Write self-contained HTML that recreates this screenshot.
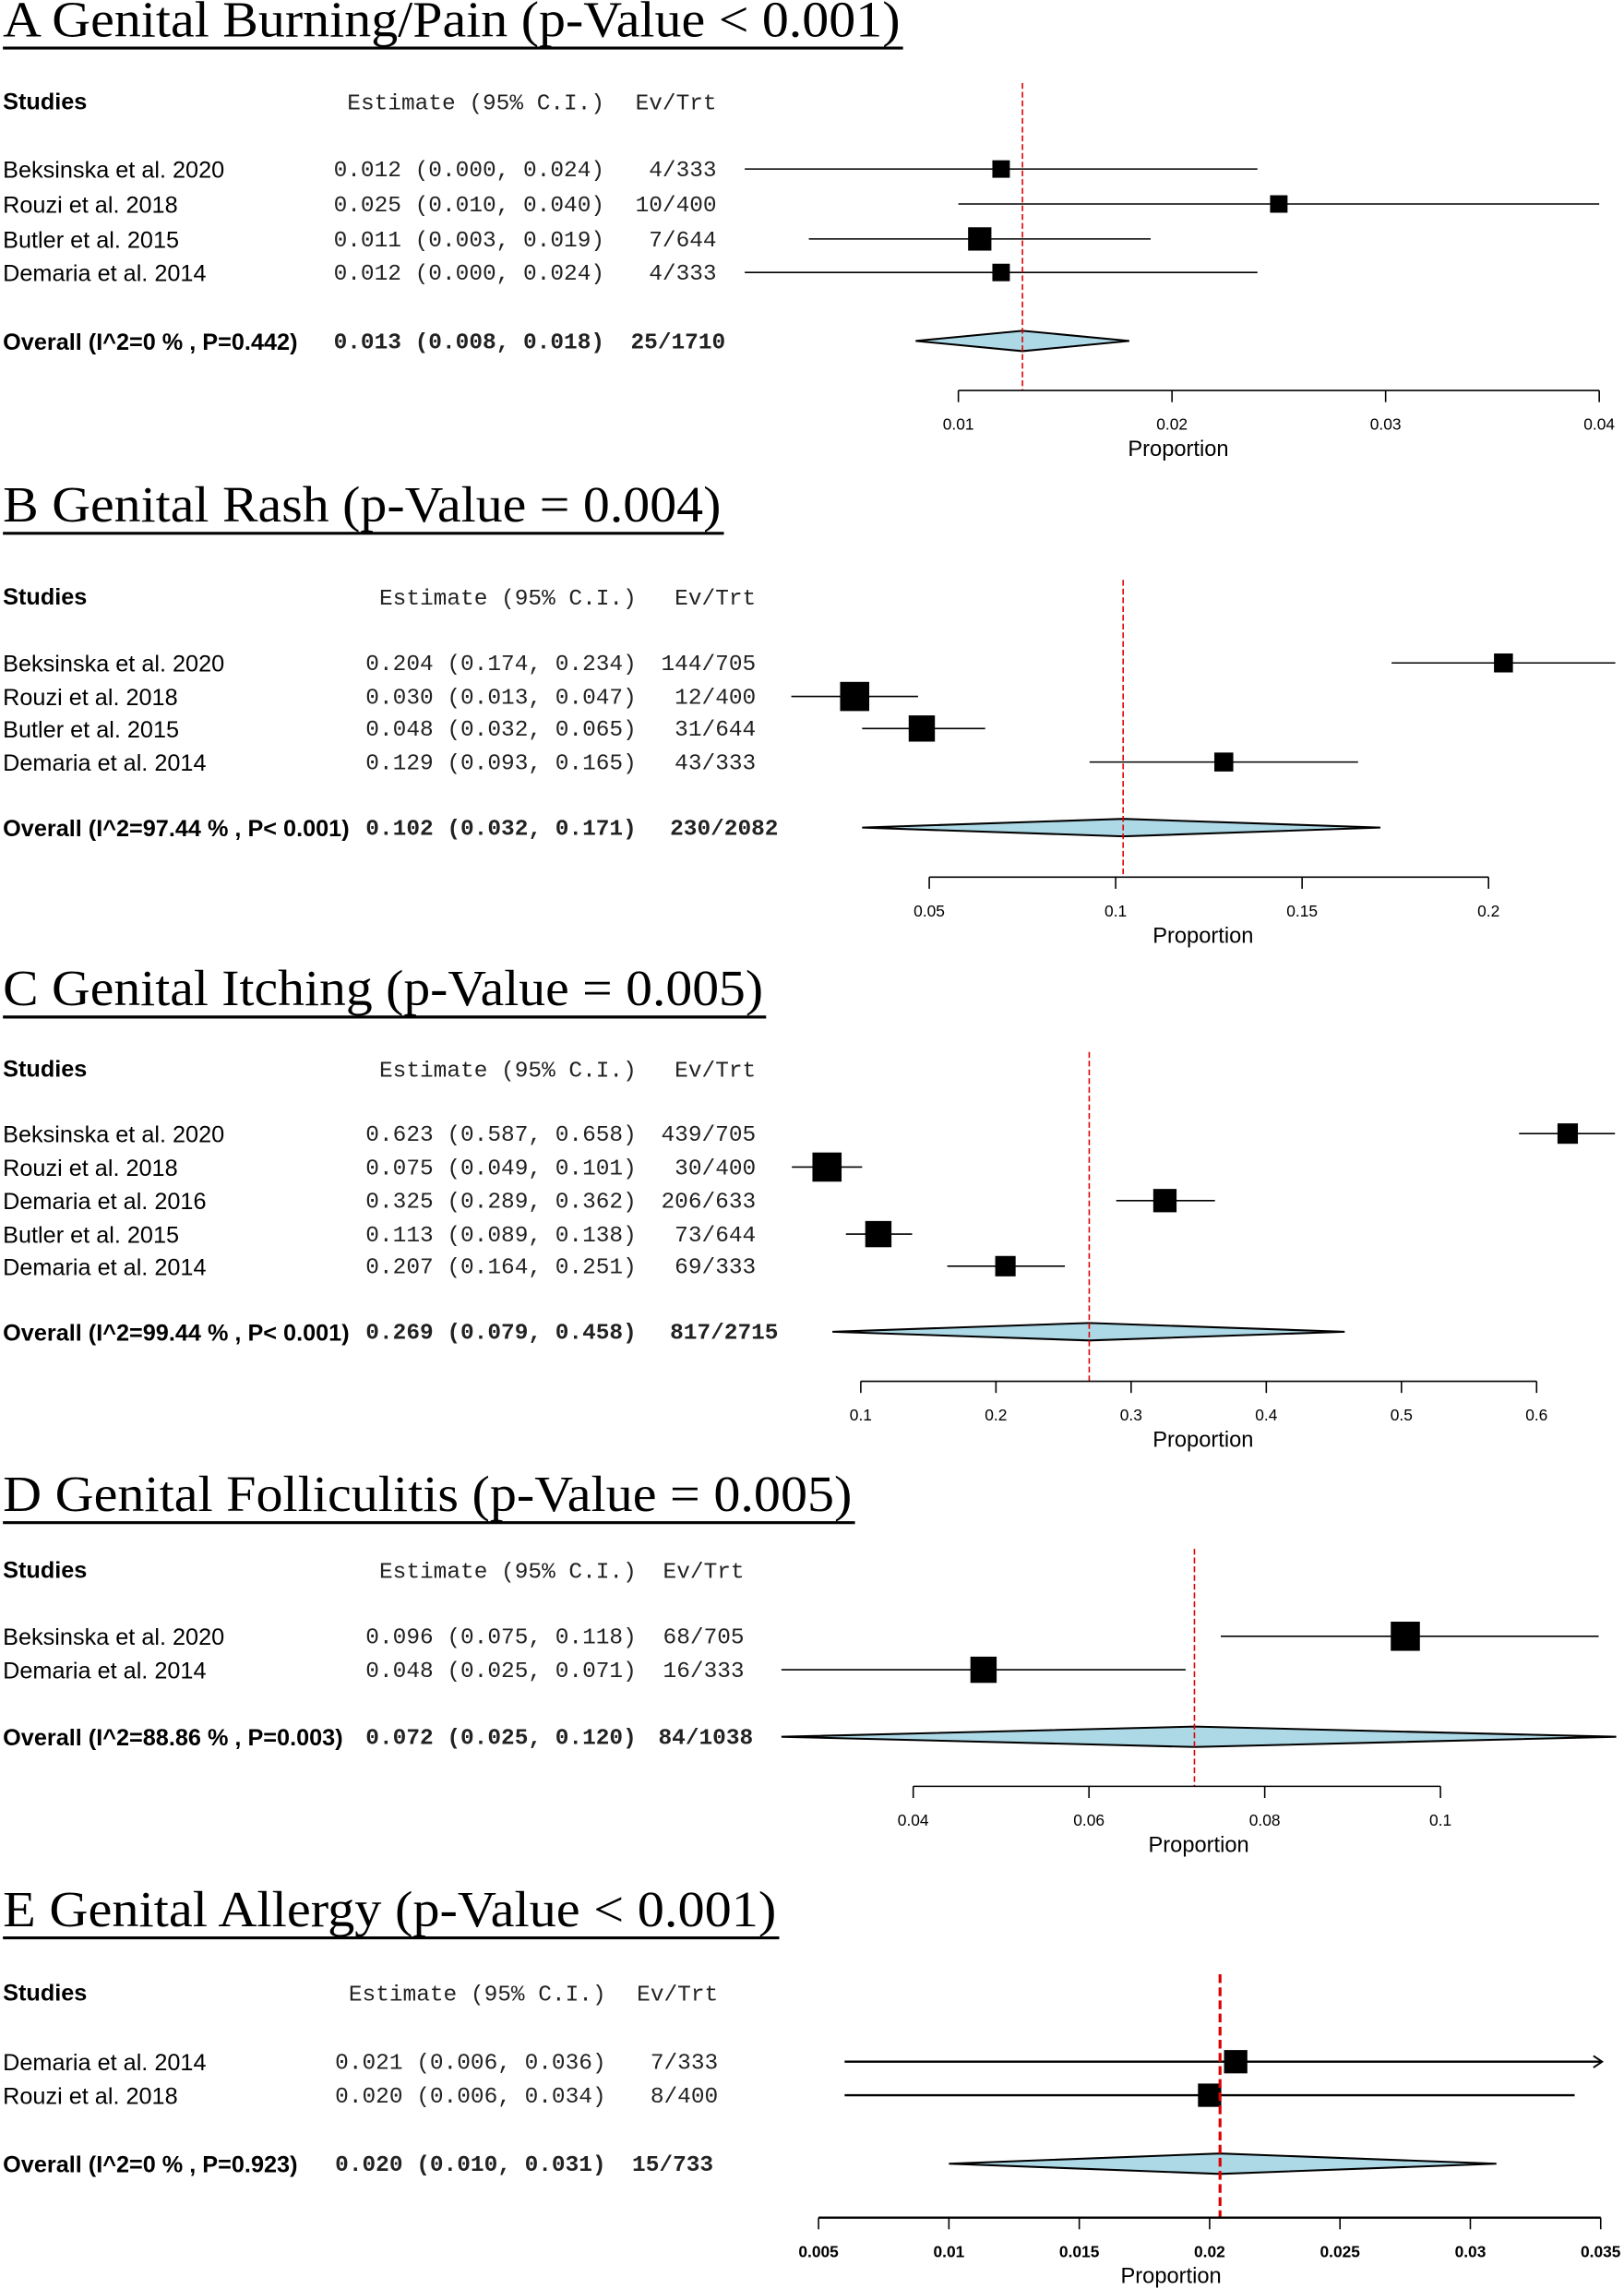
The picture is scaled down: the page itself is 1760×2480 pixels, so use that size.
<!DOCTYPE html>
<html><head><meta charset="utf-8">
<style>
html,body{margin:0;padding:0;background:#fff;}
svg{display:block;}
.ttl{font-family:"Liberation Serif",serif;font-size:35px;fill:#000;}
.lbl{font-family:"Liberation Sans",sans-serif;font-size:16px;fill:#000;}
.bold{font-weight:bold;}
.mono{font-family:"Liberation Mono",monospace;font-size:15.5px;fill:#222;}
.tick{font-family:"Liberation Sans",sans-serif;font-size:11px;fill:#000;}
.axt{font-family:"Liberation Sans",sans-serif;font-size:15px;fill:#000;}
</style></head>
<body>
<svg id="chart" width="1760" height="2480" viewBox="0 0 1115 1571" preserveAspectRatio="none" xmlns="http://www.w3.org/2000/svg"></svg>
<script>
// Panel A
const aStudies=["Beksinska et al. 2020","Rouzi et al. 2018","Butler et al. 2015","Demaria et al. 2014"];
const aEst=[0.012,0.025,0.011,0.012];
const aLo=[0.000,0.010,0.003,0.000];
const aHi=[0.024,0.040,0.019,0.024];
const aEv=["4/333","10/400","7/644","4/333"];
const aWeight=[12,12,16,12];
const aOverall=[0.013,0.008,0.018];
const aOverallLabel="Overall (I^2=0 % , P=0.442)";
const aOverallEv="25/1710";
const aTicks=[0.01,0.02,0.03,0.04];
// Panel B
const bStudies=["Beksinska et al. 2020","Rouzi et al. 2018","Butler et al. 2015","Demaria et al. 2014"];
const bEst=[0.204,0.030,0.048,0.129];
const bLo=[0.174,0.013,0.032,0.093];
const bHi=[0.234,0.047,0.065,0.165];
const bEv=["144/705","12/400","31/644","43/333"];
const bWeight=[13,20,18,13];
const bOverall=[0.102,0.032,0.171];
const bOverallLabel="Overall (I^2=97.44 % , P< 0.001)";
const bOverallEv="230/2082";
const bTicks=[0.05,0.1,0.15,0.2];
// Panel C
const cStudies=["Beksinska et al. 2020","Rouzi et al. 2018","Demaria et al. 2016","Butler et al. 2015","Demaria et al. 2014"];
const cEst=[0.623,0.075,0.325,0.113,0.207];
const cLo=[0.587,0.049,0.289,0.089,0.164];
const cHi=[0.658,0.101,0.362,0.138,0.251];
const cEv=["439/705","30/400","206/633","73/644","69/333"];
const cWeight=[14,20,16,18,14];
const cOverall=[0.269,0.079,0.458];
const cOverallLabel="Overall (I^2=99.44 % , P< 0.001)";
const cOverallEv="817/2715";
const cTicks=[0.1,0.2,0.3,0.4,0.5,0.6];
// Panel D
const dStudies=["Beksinska et al. 2020","Demaria et al. 2014"];
const dEst=[0.096,0.048];
const dLo=[0.075,0.025];
const dHi=[0.118,0.071];
const dEv=["68/705","16/333"];
const dWeight=[20,18];
const dOverall=[0.072,0.025,0.120];
const dOverallLabel="Overall (I^2=88.86 % , P=0.003)";
const dOverallEv="84/1038";
const dTicks=[0.04,0.06,0.08,0.1];
// Panel E
const eStudies=["Demaria et al. 2014","Rouzi et al. 2018"];
const eEst=[0.021,0.020];
const eLo=[0.006,0.006];
const eHi=[0.036,0.034];
const eEv=["7/333","8/400"];
const eWeight=[16,16];
const eOverall=[0.0204,0.010,0.031];
const eOverallLabel="Overall (I^2=0 % , P=0.923)";
const eOverallEv="15/733";
const eTicks=[0.005,0.01,0.015,0.02,0.025,0.03,0.035];

const NS="http://www.w3.org/2000/svg";
const svg=document.getElementById('chart');
function mk(tag,attrs,parent,text){const e=document.createElementNS(NS,tag);for(const k in attrs)e.setAttribute(k,attrs[k]);if(text!==undefined)e.textContent=text;(parent||svg).appendChild(e);return e;}
function fmt(v){return v.toFixed(3);}

function panel(p){
  const g=mk('g',{});
  
  
  const xs=v=>p.x0+(v-p.t0)*(p.x1-p.x0)/(p.t1-p.t0);
  const t=mk('text',{x:2,y:p.titleY,class:'ttl',textLength:p.titleEnd-4,lengthAdjust:'spacingAndGlyphs'},g,p.title);
  
  
  const ul=mk('line',{x1:2,x2:p.titleEnd,y1:p.titleY+8,y2:p.titleY+8,stroke:'#000','stroke-width':2},g);
  
  
  let h=mk('text',{x:2,y:p.headY+5,class:'lbl bold'},g,'Studies');
  
  
  h=mk('text',{x:p.estEnd,y:p.headY+5,class:'mono','text-anchor':'end'},g,'Estimate (95% C.I.)');
  
  
  h=mk('text',{x:p.evEnd,y:p.headY+5,class:'mono','text-anchor':'end'},g,'Ev/Trt');
  
  
  const clipR=1112;
  p.studies.forEach((s,i)=>{
    const y=p.rows[i];
    let e=mk('text',{x:2,y:y+6,class:'lbl'},g,s);
    
    
    e=mk('text',{x:p.estEnd,y:y+5,class:'mono','text-anchor':'end'},g,fmt(p.est[i])+' ('+fmt(p.lo[i])+', '+fmt(p.hi[i])+')');
    
    
    e=mk('text',{x:p.evEnd,y:y+5,class:'mono','text-anchor':'end'},g,p.ev[i]);
    
    
    let x1=xs(p.lo[i]),x2=xs(p.hi[i]);let arrow=false;
    if(x2>clipR-10&&p.arrow){x2=1100;arrow=true;}
    x2=Math.min(x2,clipR);
    e=mk('line',{x1:x1,x2:x2,y1:y,y2:y,stroke:'#000','stroke-width':p.lw},g);
    
    
    if(arrow){e=mk('path',{d:`M${x2-6},${y-4} L${x2},${y} L${x2-6},${y+4}`,fill:'none',stroke:'#000','stroke-width':1.2},g);
      
      }
    const w=p.weight[i];
    e=mk('rect',{x:xs(p.est[i])-w/2,y:y-w/2,width:w,height:w,fill:'#000'},g);
    
    
  });
  const oy=p.overallY;
  let e=mk('text',{x:2,y:oy+6,class:'lbl bold'},g,p.overallLabel);
  
  
  e=mk('text',{x:p.estEnd,y:oy+5,class:'mono bold','text-anchor':'end'},g,fmt(p.overall[0])+' ('+fmt(p.overall[1])+', '+fmt(p.overall[2])+')');
  
  
  e=mk('text',{x:p.evEnd-59,y:oy+5,class:'mono bold'},g,p.overallEv);
  
  
  const dl=xs(p.overall[1]),dc=xs(p.overall[0]),dr=Math.min(xs(p.overall[2]),clipR);
  e=mk('polygon',{points:`${dl},${oy} ${dc},${oy-p.dh} ${dr},${oy} ${dc},${oy+p.dh}`,fill:'#add8e6',stroke:'#000','stroke-width':1.3},g);
  
  
  e=mk('line',{x1:dc,x2:dc,y1:p.dashTop,y2:p.axisY,stroke:'#d00','stroke-width':p.dashW,'stroke-dasharray':p.dashW>1?'6,3':'4,2'},g);
  
  
  const ax=mk('g',{},g);
  
  
  mk('line',{x1:xs(p.ticks[0]),x2:xs(p.ticks[p.ticks.length-1]),y1:p.axisY,y2:p.axisY,stroke:'#000','stroke-width':p.lw},ax);
  p.ticks.forEach(tv=>{
    mk('line',{x1:xs(tv),x2:xs(tv),y1:p.axisY,y2:p.axisY+8,stroke:'#000','stroke-width':1},ax);
    const tt=mk('text',{x:xs(tv),y:p.axisY+27,class:'tick','text-anchor':'middle','font-weight':p.id==='e'?'bold':'normal'},ax,String(tv));
    
    
  });
  e=mk('text',{x:p.propX,y:p.axisY+45,class:'axt','text-anchor':'middle'},ax,'Proportion');
  
  
}

panel({id:'a',title:'A Genital Burning/Pain (p-Value < 0.001)',titleY:25,titleEnd:620,headY:70,estEnd:415,evEnd:492,
  studies:aStudies,est:aEst,lo:aLo,hi:aHi,ev:aEv,weight:aWeight,rows:[116,140,164,187],overall:aOverall,overallLabel:aOverallLabel,overallEv:aOverallEv,overallY:234,
  ticks:aTicks,t0:0.01,t1:0.04,x0:658,x1:1098,axisY:268,propX:809,dashTop:57,dh:7,lw:1,dashW:1});
panel({id:'b',title:'B Genital Rash (p-Value = 0.004)',titleY:358,titleEnd:497,headY:410,estEnd:437,evEnd:519,
  studies:bStudies,est:bEst,lo:bLo,hi:bHi,ev:bEv,weight:bWeight,rows:[455,478,500,523],overall:bOverall,overallLabel:bOverallLabel,overallEv:bOverallEv,overallY:568,
  ticks:bTicks,t0:0.05,t1:0.2,x0:638,x1:1022,axisY:602,propX:826,dashTop:398,dh:6,lw:1,dashW:1});
panel({id:'c',title:'C Genital Itching (p-Value = 0.005)',titleY:690,titleEnd:526,headY:734,estEnd:437,evEnd:519,
  studies:cStudies,est:cEst,lo:cLo,hi:cHi,ev:cEv,weight:cWeight,rows:[778,801,824,847,869],overall:cOverall,overallLabel:cOverallLabel,overallEv:cOverallEv,overallY:914,
  ticks:cTicks,t0:0.1,t1:0.6,x0:591,x1:1055,axisY:948,propX:826,dashTop:722,dh:6,lw:1,dashW:1});
panel({id:'d',title:'D Genital Folliculitis (p-Value = 0.005)',titleY:1037,titleEnd:587,headY:1078,estEnd:437,evEnd:511,
  studies:dStudies,est:dEst,lo:dLo,hi:dHi,ev:dEv,weight:dWeight,rows:[1123,1146],overall:dOverall,overallLabel:dOverallLabel,overallEv:dOverallEv,overallY:1192,
  ticks:dTicks,t0:0.04,t1:0.1,x0:627,x1:989,axisY:1226,propX:823,dashTop:1063,dh:7,lw:1,dashW:1});
panel({id:'e',title:'E Genital Allergy (p-Value < 0.001)',titleY:1322,titleEnd:535,headY:1368,estEnd:416,evEnd:493,arrow:true,
  studies:eStudies,est:eEst,lo:eLo,hi:eHi,ev:eEv,weight:eWeight,rows:[1415,1438],overall:eOverall,overallLabel:eOverallLabel,overallEv:eOverallEv,overallY:1485,
  ticks:eTicks,t0:0.005,t1:0.035,x0:562,x1:1099,axisY:1522,propX:804,dashTop:1355,dh:7,lw:1.5,dashW:2});
</script>
</body></html>
